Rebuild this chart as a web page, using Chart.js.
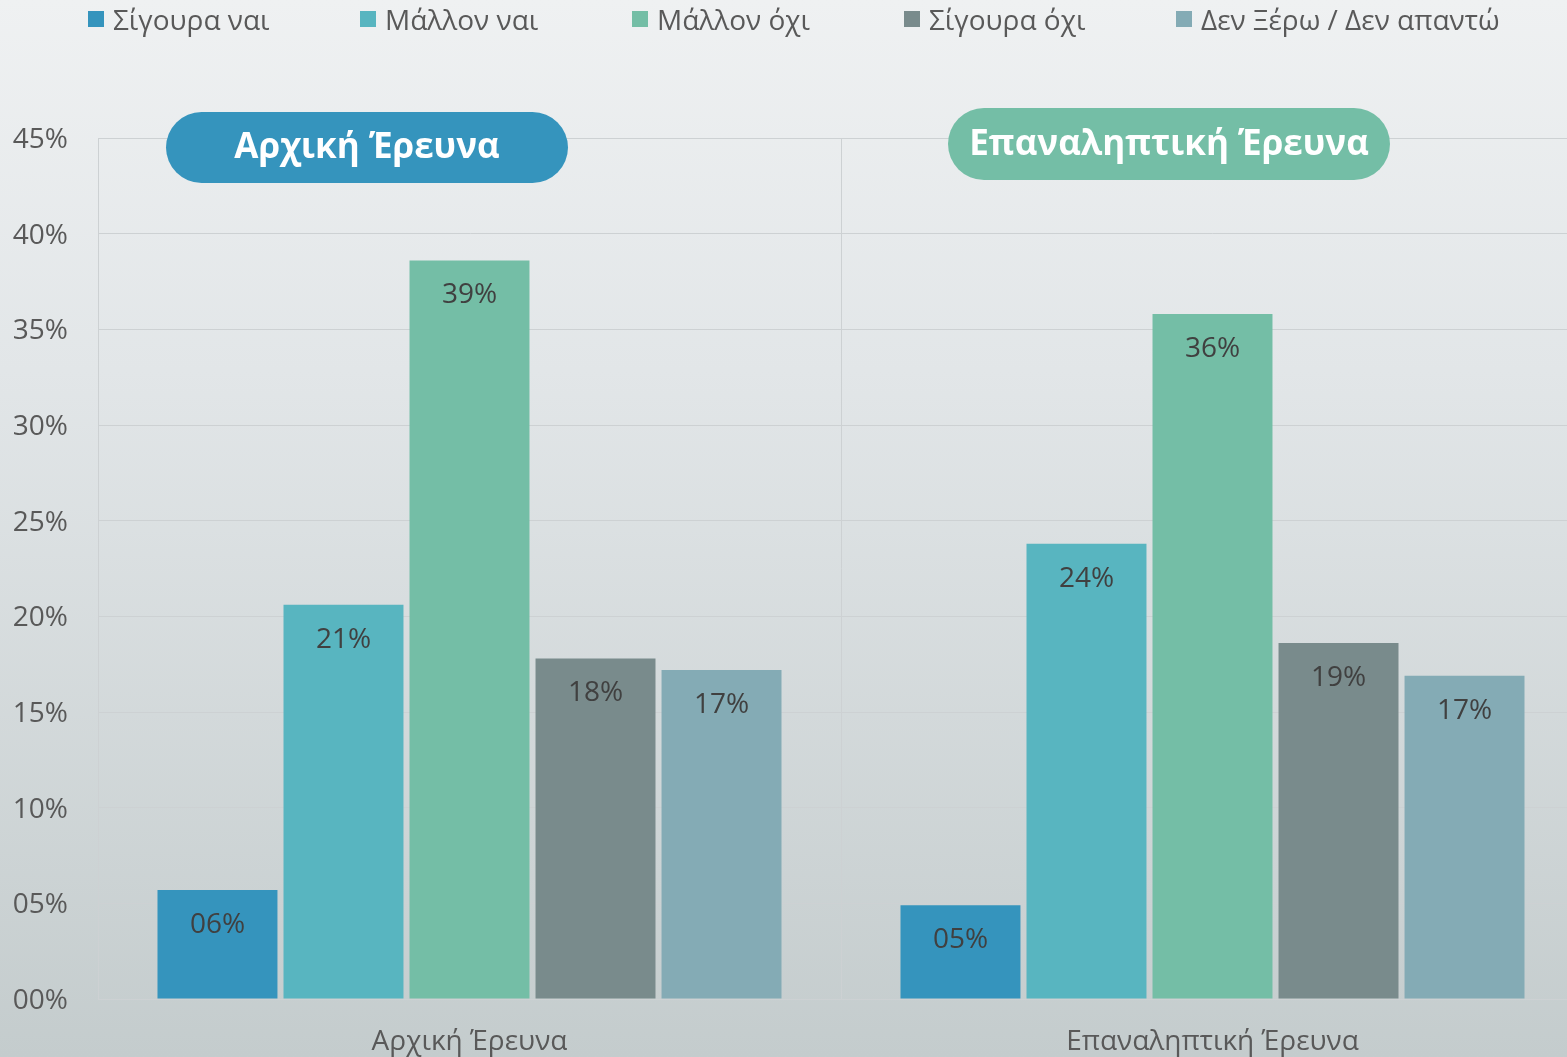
<!DOCTYPE html>
<html>
<head>
<meta charset="utf-8">
<script src="https://cdn.jsdelivr.net/npm/chart.js@4.4.1/dist/chart.umd.min.js"></script>
<style>
html, body { margin: 0; padding: 0; overflow: hidden; }
body {
  width: 1567px; height: 1057px; position: relative;
  background: linear-gradient(to bottom, #eff1f2 0%, #e2e6e8 35%, #c4cccd 100%);
  font-family: "Open Sans", sans-serif;
}
#legend { position: absolute; top: -2px; left: 88px; height: 42px; display: flex; align-items: center; }
#legend .item { width: 272px; flex-shrink: 0; display: flex; align-items: center; font-size: 28px; color: #595959; white-space: nowrap; }
#legend .box { width: 16px; height: 16px; flex-shrink: 0; margin-right: 9px; }
#wrap { position: absolute; left: 0; top: 0; width: 1585px; height: 1057px; }
</style>
</head>
<body>
<div id="wrap"><canvas id="myChart" width="1585" height="1057"></canvas></div>
<div id="legend"></div>
<script>
// categories and series (percent)
var categories = ['Αρχική Έρευνα', 'Επαναληπτική Έρευνα'];
var seriesNames = ['Σίγουρα ναι', 'Μάλλον ναι', 'Μάλλον όχι', 'Σίγουρα όχι', 'Δεν Ξέρω / Δεν απαντώ'];
var sigouraNai = [5.7, 4.9];
var mallonNai = [20.6, 23.8];
var mallonOxi = [38.6, 35.8];
var sigouraOxi = [17.8, 18.6];
var denXero = [17.2, 16.9];
var yTickLabels = ['00%', '05%', '10%', '15%', '20%', '25%', '30%', '35%', '40%', '45%'];

var colors = ['#3594bd', '#58b5c0', '#74bea6', '#798b8c', '#84abb5'];
var values = [sigouraNai, mallonNai, mallonOxi, sigouraOxi, denXero];

var datasets = seriesNames.map(function(name, i) {
  return {
    label: name,
    data: values[i],
    backgroundColor: colors[i],
    categoryPercentage: 0.848,
    barPercentage: 0.952
  };
});

function pad2(v) {
  var r = Math.round(v);
  return (r < 10 ? '0' : '') + r + '%';
}

// value labels inside the top of each bar
var barLabels = {
  id: 'barLabels',
  afterDatasetsDraw: function(chart) {
    var ctx = chart.ctx;
    ctx.save();
    ctx.font = '28px "Open Sans"';
    ctx.fillStyle = '#404040';
    ctx.textAlign = 'center';
    ctx.textBaseline = 'middle';
    chart.data.datasets.forEach(function(ds, i) {
      chart.getDatasetMeta(i).data.forEach(function(bar, j) {
        ctx.fillText(pad2(ds.data[j]), bar.x, bar.y + 35);
      });
    });
    ctx.restore();
  }
};

// rounded title badges above each group
var badges = {
  id: 'badges',
  afterDraw: function(chart) {
    var ctx = chart.ctx;
    var items = [
      { text: categories[0], color: colors[0], x: 166, y: 112, w: 402, h: 71 },
      { text: categories[1], color: colors[2], x: 948, y: 108, w: 442, h: 72 }
    ];
    ctx.save();
    items.forEach(function(b) {
      ctx.fillStyle = b.color;
      ctx.beginPath();
      ctx.roundRect(b.x, b.y, b.w, b.h, b.h / 2);
      ctx.fill();
      ctx.fillStyle = '#ffffff';
      ctx.font = 'bold 35px "Open Sans"';
      ctx.textAlign = 'center';
      ctx.textBaseline = 'middle';
      ctx.fillText(b.text, b.x + b.w / 2, b.y + b.h / 2 + 1);
    });
    ctx.restore();
  }
};

var ctx = document.getElementById('myChart').getContext('2d');
var chart = new Chart(ctx, {
  type: 'bar',
  data: { labels: categories, datasets: datasets },
  options: {
    responsive: false,
    animation: false,
    devicePixelRatio: 1,
    layout: { padding: { top: 138, right: 1, left: 0, bottom: 0 } },
    plugins: { legend: { display: false }, tooltip: { enabled: false } },
    scales: {
      x: {
        offset: true,
        grid: { offset: true, color: '#cdd1d3', lineWidth: 1, drawTicks: false },
        border: { display: false },
        ticks: { color: '#595959', font: { family: 'Open Sans', size: 28 }, padding: 26 },
        afterFit: function(s) { s.height = 58; }
      },
      y: {
        min: 0, max: 45,
        ticks: {
          stepSize: 5,
          color: '#595959',
          font: { family: 'Open Sans', size: 28 },
          padding: 30,
          labelOffset: 2,
          callback: function(v, i) { return yTickLabels[i]; }
        },
        grid: { color: '#cdd1d3', lineWidth: 1, drawTicks: false },
        border: { display: true, color: '#cdd1d3' },
        afterFit: function(s) { s.width = 98; }
      }
    }
  },
  plugins: [barLabels, badges]
});

// html legend built from the chart datasets
var legend = document.getElementById('legend');
chart.data.datasets.forEach(function(ds) {
  var item = document.createElement('div');
  item.className = 'item';
  var box = document.createElement('span');
  box.className = 'box';
  box.style.background = ds.backgroundColor;
  var txt = document.createElement('span');
  txt.textContent = ds.label;
  item.appendChild(box);
  item.appendChild(txt);
  legend.appendChild(item);
});
</script>
</body>
</html>
